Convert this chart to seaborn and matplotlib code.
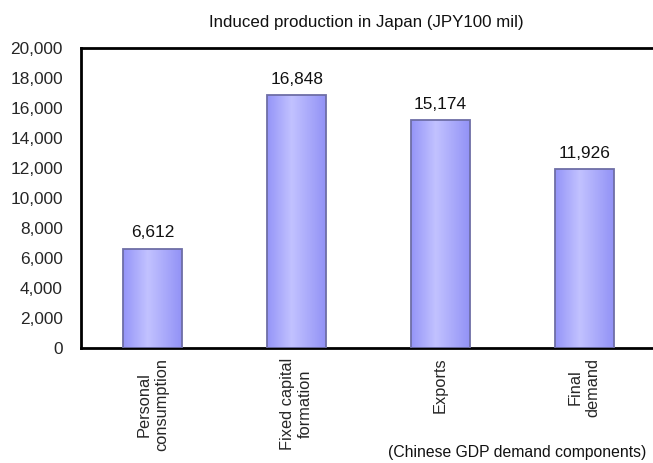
import numpy as np
import pandas as pd
import matplotlib
matplotlib.use("Agg")
import matplotlib.pyplot as plt
from matplotlib.colors import LinearSegmentedColormap
import seaborn as sns

# Induced production in Japan by Chinese GDP demand component (JPY100 mil)
categories = ["Personal\nconsumption", "Fixed capital\nformation", "Exports", "Final\ndemand"]
values = [6612, 16848, 15174, 11926]
y_ticks = [0, 2000, 4000, 6000, 8000, 10000, 12000, 14000, 16000, 18000, 20000]

title = "Induced production in Japan (JPY100 mil)"
x_title = "(Chinese GDP demand components)"

sns.set_style("white")
plt.rcParams["font.family"] = ["Liberation Sans", "DejaVu Sans"]
plt.rcParams["text.color"] = "#111111"
FS = 12.4

df = pd.DataFrame({"component": categories, "production": values})

fig = plt.figure(figsize=(6.53, 4.63), dpi=100)
W, H = 653, 463
ax = fig.add_axes([81 / W, (H - 348) / H, (656 - 81) / W, (348 - 48) / H])

sns.barplot(data=df, x="component", y="production", ax=ax, width=0.41,
            color="#a0a0ff", edgecolor="#6e6ea6", linewidth=1.3, zorder=3)

ax.set_ylim(0, 20000)
ax.set_xlim(-0.5, 3.5)
ax.set_yticks(y_ticks)
ax.set_yticklabels([f"{v:,}" for v in y_ticks])
ax.set_xlabel("")
ax.set_ylabel("")

# horizontal shading inside each bar
shade = LinearSegmentedColormap.from_list(
    "barshade", [(0.0, "#9494f8"), (0.42, "#c2c2ff"), (1.0, "#9292f6")])
grad = np.linspace(0, 1, 256).reshape(1, -1)
for p in ax.patches:
    x0, y0 = p.get_x(), p.get_y()
    w, h = p.get_width(), p.get_height()
    im = ax.imshow(grad, cmap=shade, aspect="auto", extent=[x0, x0 + w, y0, y0 + h],
                   origin="lower", zorder=2.5, interpolation="bicubic")
    im.set_clip_path(p)
    p.set_facecolor("none")
ax.set_xlim(-0.5, 3.5)
ax.set_ylim(0, 20000)

# value labels above bars
for bars in ax.containers:
    ax.bar_label(bars, labels=[f"{v:,}" for v in values], padding=6, fontsize=FS)

# frame: left, top and bottom lines only
for side in ["left", "top", "bottom"]:
    ax.spines[side].set_linewidth(2.0)
    ax.spines[side].set_color("black")
ax.spines["right"].set_visible(False)

ax.tick_params(axis="y", direction="in", length=3, width=0.7, color="#888888",
               labelsize=FS, pad=13)
ax.tick_params(axis="x", which="major", length=0, labelsize=11.8, pad=7)
ax.set_xticks([0.5, 1.5, 2.5], minor=True)
ax.tick_params(axis="x", which="minor", direction="in", length=3, width=0.7, color="#888888")
for lbl in ax.get_xticklabels():
    lbl.set_rotation(90)
    lbl.set_ha("center")
    lbl.set_va("top")
    lbl.set_multialignment("center")

fig.text(366 / W, 1 - 22 / H, title, ha="center", va="center", fontsize=12.2)
fig.text(646 / W, 1 - 452 / H, x_title, ha="right", va="center", fontsize=11.3)

fig.savefig("out.png", dpi=100)
